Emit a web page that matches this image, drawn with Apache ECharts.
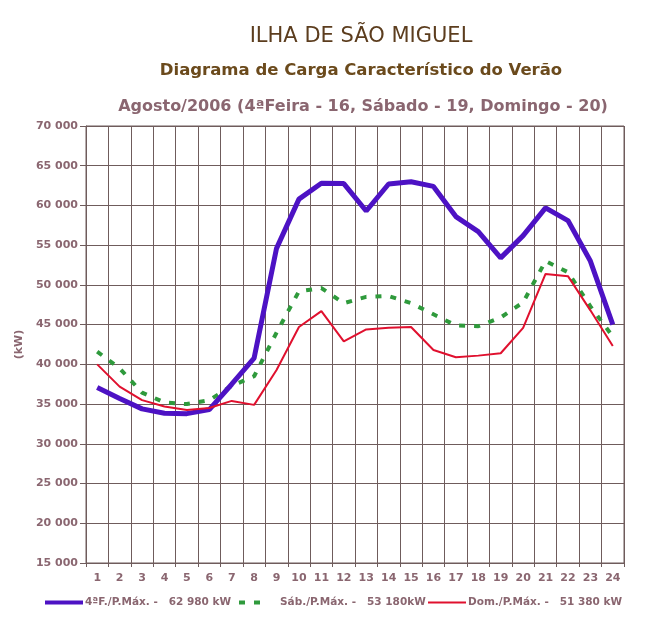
<!DOCTYPE html>
<html>
<head>
<meta charset="utf-8">
<script src="https://cdn.jsdelivr.net/npm/echarts@6/dist/echarts.min.js"></script>
<style>html,body{margin:0;padding:0;background:#fff}#c{width:645px;height:636px}</style>
</head>
<body>
<div id="c"></div>
<script>
const hours = ['1','2','3','4','5','6','7','8','9','10','11','12','13','14','15','16','17','18','19','20','21','22','23','24'];
const quarta = [37100,35700,34400,33850,33800,34300,37500,40800,54600,60800,62800,62750,59300,62700,62980,62400,58600,56700,53400,56200,59700,58100,53000,45000];
const sabado = [41600,39500,36450,35200,35000,35500,37300,38500,44000,49200,49600,47700,48500,48600,47700,46300,44900,44800,45900,47800,53000,51600,47300,43500];
const domingo = [40000,37200,35500,34700,34250,34500,35400,34900,39300,44700,46700,42900,44400,44600,44700,41800,40900,41100,41400,44600,51380,51100,46800,42300];
const seriesNames = ['4ªF./P.Máx. -   62 980 kW', 'Sáb./P.Máx. -   53 180kW', 'Dom./P.Máx. -   51 380 kW'];
const yMin = 15000, yMax = 70000, yStep = 5000;

const txt = '#8a6670';
const gridCol = '#6f5c5c';
const font = 'DejaVu Sans';
const chart = echarts.init(document.getElementById('c'), null, {renderer: 'canvas'});
const legendText = {color: txt, fontWeight: 'bold', fontSize: 10.5, fontFamily: font, padding: [0,0,0,-3]};
const legendCommon = {top: 597, itemHeight: 12, itemGap: 0, padding: 0, itemStyle: {opacity: 0}};
chart.setOption({
  backgroundColor: '#ffffff',
  animation: false,
  title: [
    {text: 'ILHA DE SÃO MIGUEL', left: 356, top: 21, textAlign: 'center',
     textStyle: {color: '#5c3d1e', fontSize: 21, fontWeight: 'normal', fontFamily: font}},
    {text: 'Diagrama de Carga Característico do Verão', left: 356, top: 57, textAlign: 'center',
     textStyle: {color: '#6b4a1c', fontSize: 16.5, fontWeight: 'bold', fontFamily: font}},
    {text: 'Agosto/2006 (4ªFeira - 16, Sábado - 19, Domingo - 20)', left: 358, top: 94, textAlign: 'center',
     textStyle: {color: txt, fontSize: 16, fontWeight: 'bold', fontFamily: font}}
  ],
  legend: [
    Object.assign({data: [seriesNames[0]], left: 43, itemWidth: 38, textStyle: legendText, lineStyle: {width: 4}}, legendCommon),
    Object.assign({data: [seriesNames[1]], left: 237, itemWidth: 22, textStyle: Object.assign({}, legendText, {padding: [0,0,0,14]}), lineStyle: {width: 4, type: [6, 9]}}, legendCommon),
    Object.assign({data: [seriesNames[2]], left: 427, itemWidth: 38, textStyle: legendText, lineStyle: {width: 2}}, legendCommon)
  ],
  grid: {left: 86, right: 21, top: 126, bottom: 73, show: true, borderColor: gridCol, borderWidth: 1},
  xAxis: {
    type: 'category', data: hours, boundaryGap: true,
    axisLine: {lineStyle: {color: gridCol}},
    axisTick: {show: true, length: 4, lineStyle: {color: gridCol}},
    splitLine: {show: true, lineStyle: {color: gridCol, width: 1}},
    axisLabel: {color: txt, fontWeight: 'bold', fontSize: 11, fontFamily: font, margin: 10}
  },
  yAxis: {
    type: 'value', min: yMin, max: yMax, interval: yStep,
    name: '(kW)', nameLocation: 'middle', nameGap: 53, nameRotate: 90,
    nameTextStyle: {color: txt, fontWeight: 'bold', fontSize: 11, fontFamily: font},
    axisLine: {show: true, lineStyle: {color: gridCol}},
    axisTick: {show: true, length: 6, lineStyle: {color: gridCol}},
    splitLine: {show: true, lineStyle: {color: gridCol, width: 1}},
    axisLabel: {color: txt, fontWeight: 'bold', fontSize: 11, fontFamily: font, margin: 8,
      formatter: v => String(v).replace(/\B(?=(\d{3})+(?!\d))/g, ' ')}
  },
  series: [
    {name: seriesNames[0], type: 'line', data: quarta, showSymbol: false, symbol: 'none', z: 3,
     lineStyle: {color: '#4d12c4', width: 5}, itemStyle: {color: '#4d12c4'}},
    {name: seriesNames[1], type: 'line', data: sabado, showSymbol: false, symbol: 'none', z: 2,
     lineStyle: {color: '#2f9a3c', width: 4, type: [6, 9]}, itemStyle: {color: '#2f9a3c'}},
    {name: seriesNames[2], type: 'line', data: domingo, showSymbol: false, symbol: 'none', z: 4,
     lineStyle: {color: '#e0102e', width: 2}, itemStyle: {color: '#e0102e'}}
  ]
});
</script>
</body>
</html>
